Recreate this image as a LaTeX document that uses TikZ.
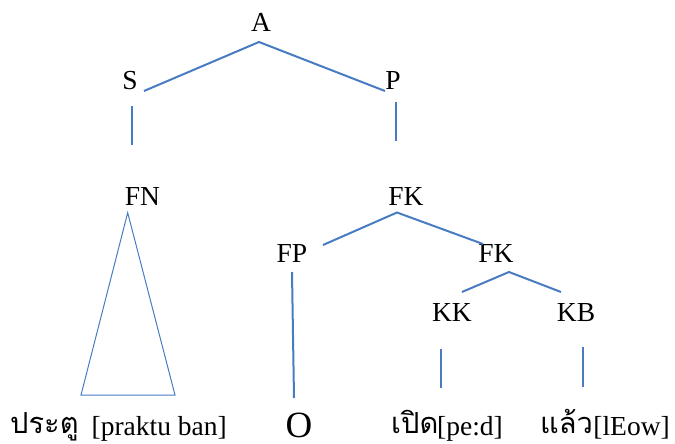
\documentclass[tikz,border=0pt]{standalone}
\usepackage{fontspec}
\setmainfont{Liberation Serif}
\newfontfamily\thaifont[Script=Thai]{Loma}
\definecolor{branch}{RGB}{72,124,194}

\begin{document}
\begin{tikzpicture}[x=1pt,y=-1pt,
  lbl/.style={font=\fontsize{27.5}{31}\selectfont, inner sep=0pt, anchor=base},
  word/.style={font=\fontsize{27.5}{32}\selectfont, inner sep=0pt, anchor=base east},
  thai/.style={font=\fontsize{29}{34}\selectfont\thaifont, inner sep=0pt, anchor=base west},
  edge/.style={draw=branch, line width=2pt},
]
\useasboundingbox (0,0) rectangle (675,444);

% category labels
\node[lbl] (A)   at (261,32)  {A};
\node[lbl] (S)   at (130,90)  {S};
\node[lbl] (P)   at (393,90)  {P};
\node[lbl] (FN)  at (142.5,205) {FN};
\node[lbl] (FK)  at (406,205) {FK};
\node[lbl] (FP)  at (292,262) {FP};
\node[lbl] (FKb) at (496,262) {FK};
\node[lbl] (KK)  at (452,321) {KK};
\node[lbl] (KB)  at (576,321) {KB};

% words and transcriptions
\node[thai] (w1)  at (10,433)  {ประตู};
\node[word] (g1)  at (227,435) {[praktu ban]};
\node[font=\fontsize{37}{40}\selectfont, inner sep=0pt, anchor=base] (O) at (299,437) {O};
\node[thai] (w2)  at (391,433) {เปิด};
\node[word] (g2)  at (503,435) {[pe:d]};
\node[thai] (w3)  at (540,433) {แล้ว};
\node[word] (g3)  at (670,435) {[lEow]};

% branch end points
\coordinate (A-b)   at (259,42);
\coordinate (S-t)   at (144,91);
\coordinate (P-t)   at (385,91);
\coordinate (S-b)   at (132,106);
\coordinate (S-e)   at (132,145);
\coordinate (P-b)   at (396,102);
\coordinate (P-e)   at (396,141);
\coordinate (FN-a)  at (127.7,212.7);
\coordinate (FN-l)  at (81,395);
\coordinate (FN-r)  at (175,395);
\coordinate (FK-b)  at (397,212.5);
\coordinate (FP-t)  at (323,245);
\coordinate (FKb-t) at (483,244);
\coordinate (FP-b)  at (292,272);
\coordinate (FP-e)  at (294,398);
\coordinate (FKb-b) at (509,272);
\coordinate (KK-t)  at (462,292);
\coordinate (KB-t)  at (561,292);
\coordinate (KK-b)  at (441,349);
\coordinate (KK-e)  at (441,388);
\coordinate (KB-b)  at (583,347);
\coordinate (KB-e)  at (583,387);

% branches
\draw[edge] (S-t) -- (A-b) -- (P-t);
\draw[edge] (S-b) -- (S-e);
\draw[edge] (P-b) -- (P-e);
\draw[edge, line width=1pt] (FN-a) -- (FN-l) -- (FN-r) -- cycle;
\draw[edge] (FP-t) -- (FK-b) -- (FKb-t);
\draw[edge] (FP-b) -- (FP-e);
\draw[edge] (KK-t) -- (FKb-b) -- (KB-t);
\draw[edge] (KK-b) -- (KK-e);
\draw[edge] (KB-b) -- (KB-e);
\end{tikzpicture}
\end{document}
